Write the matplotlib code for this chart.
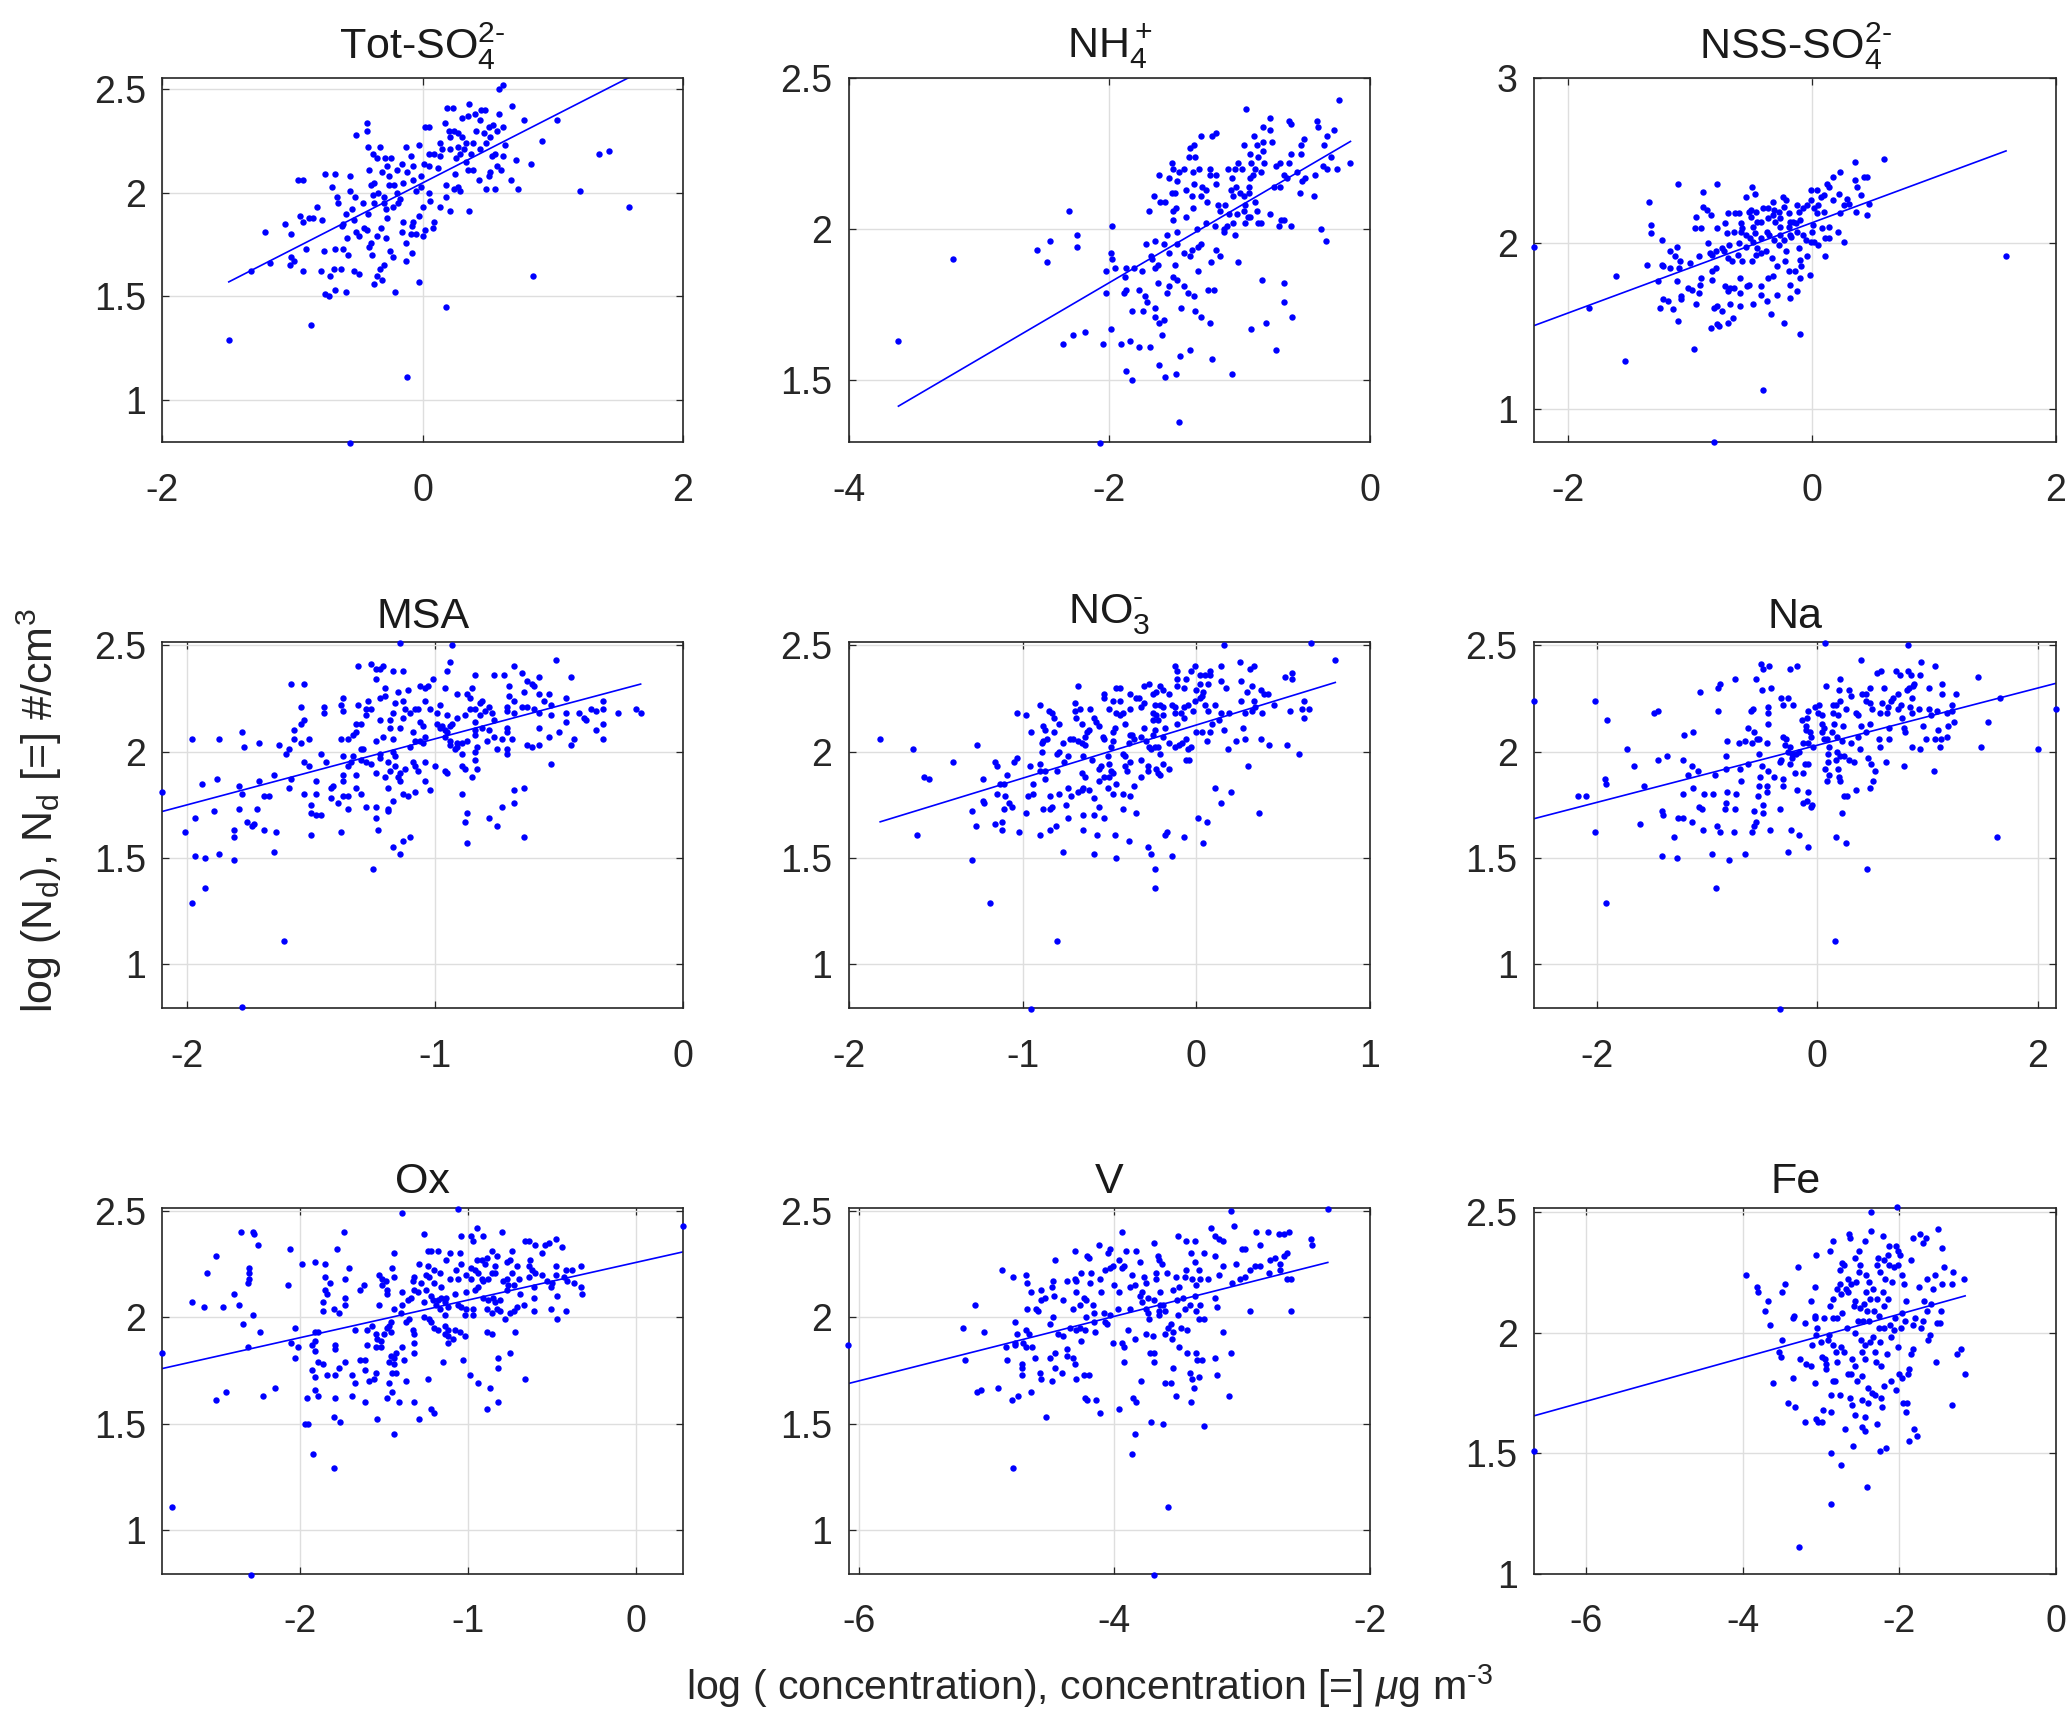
import numpy as np
import matplotlib
matplotlib.use('Agg')
import matplotlib.pyplot as plt
from matplotlib.ticker import FormatStrFormatter

plt.rcParams['font.family'] = ['Liberation Sans', 'DejaVu Sans']
plt.rcParams['mathtext.fontset'] = 'custom'
plt.rcParams['mathtext.rm'] = 'Liberation Sans'
plt.rcParams['mathtext.it'] = 'Liberation Sans:italic'
plt.rcParams['mathtext.default'] = 'regular'
plt.rcParams['axes.unicode_minus'] = False

# (log concentration, log Nd) pairs
tot_so4 = [(-1.49,1.29),(-1.32,1.62),(-1.17,1.66),(-1.21,1.81),(-1.06,1.85),(-1.01,1.80),(-0.94,1.89),(-0.92,1.86),(-0.87,1.88),(-0.84,1.88),(-0.77,1.87),(-0.81,1.93),(-0.96,2.06),(-0.92,2.06),(-0.75,2.09),(-0.67,2.09),(-0.56,2.08),(-0.70,2.03),(-0.66,1.98),(-0.65,1.95),(-0.56,2.01),(-0.51,2.28),(-0.43,2.34),(-0.43,2.30),(-0.42,2.22),(-0.33,2.22),(-0.38,2.19),(-0.35,2.17),(-0.29,2.17),(-0.24,2.17),(-0.13,2.22),(-0.03,2.23),(0.02,2.32),(0.05,2.32),(0.17,2.34),(0.19,2.41),(0.23,2.41),(0.36,2.43),(0.30,2.36),(0.35,2.37),(0.40,2.38),(0.44,2.35),(0.45,2.40),(0.48,2.40),(0.59,2.50),(0.62,2.52),(0.69,2.42),(0.59,2.38),(0.78,2.35),(1.03,2.35),(0.92,2.25),(0.54,2.33),(0.62,2.32),(0.63,2.23),(0.62,2.18),(0.72,2.16),(0.83,2.14),(0.68,2.06),(0.73,2.02),(1.36,2.19),(1.43,2.20),(1.21,2.01),(1.59,1.93),(0.85,1.60),(0.18,1.45),(-0.12,1.11),(-0.56,0.79),(-0.86,1.36),(-0.75,1.51),(-0.72,1.50),(-0.59,1.52),(-0.67,1.53),(-0.71,1.60),(-0.78,1.62),(-0.68,1.63),(-0.63,1.63),(-0.92,1.62),(-1.02,1.65),(-0.99,1.67),(-1.01,1.69),(-0.90,1.73),(-0.76,1.72),(-0.67,1.73),(-0.61,1.73),(-0.57,1.70),(-0.58,1.78),(-0.53,1.62),(-0.49,1.61),(-0.37,1.56),(-0.35,1.60),(-0.31,1.58),(-0.33,1.63),(-0.30,1.65),(-0.21,1.52),(-0.13,1.67),(-0.08,1.71),(-0.03,1.57),(-0.13,1.76),(-0.40,1.76),(-0.39,1.70),(-0.41,1.74),(-0.28,1.78),(-0.25,1.72),(-0.23,1.69),(-0.35,1.79),(-0.32,1.83),(-0.27,1.88),(-0.45,1.83),(-0.43,1.82),(-0.51,1.81),(-0.49,1.79),(-0.61,1.85),(-0.62,1.84),(-0.59,1.90),(-0.53,1.87),(-0.54,1.92),(-0.46,1.95),(-0.52,1.98),(-0.42,1.90),(-0.38,1.99),(-0.37,1.95),(-0.34,2.00),(-0.30,1.98),(-0.30,1.95),(-0.28,1.92),(-0.23,1.93),(-0.19,1.95),(-0.17,1.97),(-0.20,2.00),(-0.40,2.04),(-0.37,2.05),(-0.41,2.11),(-0.31,2.10),(-0.27,2.13),(-0.26,2.08),(-0.26,2.04),(-0.22,2.04),(-0.20,2.11),(-0.16,2.14),(-0.15,2.05),(-0.12,2.10),(-0.09,2.18),(-0.07,2.13),(-0.07,2.06),(-0.01,2.08),(0.01,2.14),(0.05,2.13),(0.05,2.19),(0.09,2.19),(0.13,2.18),(0.13,2.24),(0.15,2.21),(0.12,2.12),(0.05,2.00),(-0.01,2.03),(-0.05,2.01),(0.00,1.93),(-0.03,1.89),(-0.07,1.86),(-0.08,1.84),(-0.15,1.86),(-0.16,1.81),(-0.09,1.80),(-0.05,1.80),(-0.00,1.79),(0.02,1.82),(0.08,1.83),(0.09,1.86),(0.06,1.96),(0.13,1.93),(0.18,1.98),(0.21,1.91),(0.36,1.91),(0.18,2.04),(0.25,2.09),(0.27,2.03),(0.29,2.01),(0.24,2.02),(0.20,2.30),(0.24,2.30),(0.27,2.29),(0.21,2.27),(0.30,2.27),(0.33,2.24),(0.27,2.22),(0.21,2.21),(0.29,2.19),(0.26,2.17),(0.33,2.15),(0.32,2.21),(0.37,2.19),(0.41,2.30),(0.39,2.24),(0.44,2.21),(0.47,2.29),(0.51,2.32),(0.57,2.30),(0.52,2.27),(0.49,2.24),(0.56,2.19),(0.53,2.18),(0.39,2.11),(0.43,2.06),(0.51,2.08),(0.49,2.02),(0.56,2.02),(0.52,2.10),(0.57,2.13),(0.60,2.11),(0.35,2.11)]

nh4 = [(-3.62,1.63),(-3.20,1.90),(-2.56,1.93),(-2.46,1.96),(-2.48,1.89),(-2.31,2.06),(-2.25,1.98),(-2.25,1.94),(-2.36,1.62),(-2.28,1.65),(-2.19,1.66),(-2.05,1.62),(-1.99,1.67),(-2.03,1.79),(-2.03,1.86),(-1.99,1.92),(-1.98,2.01),(-1.98,1.90),(-1.96,1.87),(-2.07,1.29),(-1.91,1.62),(-1.84,1.63),(-1.87,1.53),(-1.83,1.50),(-1.77,1.61),(-1.69,1.61),(-1.62,1.55),(-1.57,1.51),(-1.49,1.52),(-1.46,1.58),(-1.38,1.60),(-1.47,1.36),(-1.21,1.57),(-1.06,1.52),(-0.91,1.67),(-0.80,1.69),(-0.72,1.60),(-0.60,1.71),(-0.66,1.76),(-0.66,1.82),(-0.83,1.83),(-1.01,1.89),(-1.23,1.69),(-1.30,1.71),(-1.34,1.73),(-1.24,1.80),(-1.20,1.80),(-1.35,1.78),(-1.40,1.79),(-1.43,1.81),(-1.45,1.74),(-1.60,1.65),(-1.58,1.70),(-1.62,1.69),(-1.65,1.71),(-1.65,1.74),(-1.71,1.76),(-1.73,1.78),(-1.74,1.73),(-1.83,1.73),(-1.77,1.80),(-1.87,1.80),(-1.89,1.79),(-1.88,1.84),(-1.87,1.87),(-1.81,1.87),(-1.75,1.86),(-1.63,1.82),(-1.56,1.79),(-1.54,1.81),(-1.51,1.84),(-1.48,1.83),(-1.50,1.88),(-1.65,1.87),(-1.63,1.88),(-1.67,1.90),(-1.68,1.91),(-1.72,1.95),(-1.65,1.96),(-1.58,1.95),(-1.56,1.98),(-1.54,1.92),(-1.48,1.95),(-1.48,1.99),(-1.43,1.92),(-1.38,1.91),(-1.37,1.93),(-1.32,1.94),(-1.30,1.95),(-1.32,1.86),(-1.22,1.89),(-1.18,1.93),(-1.15,1.91),(-1.33,2.00),(-1.26,2.02),(-1.19,2.01),(-1.10,2.01),(-1.12,1.99),(-1.12,2.00),(-1.04,1.98),(-1.08,2.05),(-1.11,2.08),(-1.15,2.06),(-1.17,2.08),(-1.25,2.09),(-1.30,2.11),(-1.26,2.13),(-1.29,2.14),(-1.36,2.07),(-1.37,2.11),(-1.41,2.13),(-1.41,2.04),(-1.49,2.07),(-1.51,2.06),(-1.51,2.03),(-1.50,2.12),(-1.52,2.12),(-1.57,2.09),(-1.61,2.09),(-1.66,2.11),(-1.70,2.06),(-1.62,2.18),(-1.54,2.17),(-1.48,2.16),(-1.51,2.20),(-1.47,2.19),(-1.52,2.22),(-1.43,2.20),(-1.36,2.19),(-1.31,2.20),(-1.23,2.20),(-1.18,2.18),(-1.23,2.18),(-1.18,2.15),(-1.35,2.15),(-1.39,2.24),(-1.34,2.24),(-1.38,2.27),(-1.35,2.28),(-1.30,2.31),(-1.21,2.31),(-1.18,2.32),(-1.09,2.20),(-1.04,2.20),(-1.01,2.22),(-0.98,2.20),(-1.06,2.17),(-1.03,2.14),(-1.07,2.13),(-1.05,2.11),(-1.00,2.12),(-0.97,2.11),(-0.93,2.12),(-0.96,2.08),(-0.97,2.06),(-0.96,2.02),(-0.94,2.04),(-1.02,2.05),(-1.05,2.02),(-0.92,2.04),(-0.86,2.02),(-0.84,2.02),(-0.87,2.06),(-0.88,2.09),(-0.93,2.14),(-0.92,2.17),(-0.90,2.18),(-0.88,2.20),(-0.91,2.22),(-0.86,2.24),(-0.92,2.25),(-0.97,2.28),(-0.87,2.28),(-0.82,2.29),(-0.82,2.26),(-0.81,2.22),(-0.84,2.19),(-0.89,2.31),(-0.82,2.34),(-0.77,2.33),(-0.77,2.37),(-0.95,2.40),(-0.75,2.29),(-0.72,2.21),(-0.69,2.22),(-0.66,2.18),(-0.64,2.17),(-0.74,2.14),(-0.69,2.14),(-0.77,2.05),(-0.70,2.01),(-0.68,2.03),(-0.66,2.03),(-0.61,2.01),(-0.62,2.22),(-0.61,2.25),(-0.62,2.36),(-0.61,2.35),(-0.53,2.28),(-0.53,2.25),(-0.56,2.19),(-0.51,2.30),(-0.50,2.17),(-0.52,2.16),(-0.54,2.12),(-0.42,2.18),(-0.43,2.11),(-0.41,2.36),(-0.40,2.34),(-0.35,2.28),(-0.33,2.31),(-0.28,2.33),(-0.30,2.24),(-0.36,2.21),(-0.33,2.20),(-0.25,2.20),(-0.24,2.43),(-0.15,2.22),(-0.38,2.00),(-0.34,1.96)]

nss_so4 = [(-2.28,1.98),(-1.83,1.61),(-1.61,1.80),(-1.53,1.29),(-1.34,2.25),(-1.32,2.11),(-1.32,2.06),(-1.23,2.02),(-1.35,1.87),(-1.26,1.77),(-1.25,1.61),(-1.22,1.66),(-1.18,1.65),(-1.14,1.60),(-1.10,1.53),(-1.23,1.87),(-1.22,1.86),(-1.16,1.85),(-1.16,1.95),(-1.12,1.92),(-1.11,1.98),(-1.10,2.36),(-1.08,1.89),(-1.09,1.85),(-1.11,1.77),(-1.07,1.68),(-1.07,1.66),(-1.00,1.88),(-1.02,1.73),(-0.98,1.72),(-0.95,1.63),(-0.93,1.70),(-0.92,1.75),(-0.91,1.79),(-0.93,1.92),(-0.97,1.36),(-0.96,2.09),(-0.91,2.09),(-0.95,2.16),(-0.89,2.31),(-0.89,2.22),(-0.86,2.20),(-0.83,2.17),(-0.78,2.36),(-0.85,2.00),(-0.84,1.94),(-0.82,1.93),(-0.79,1.95),(-0.82,1.83),(-0.82,1.78),(-0.79,1.85),(-0.78,2.09),(-0.74,1.97),(-0.83,1.49),(-0.78,1.51),(-0.76,1.50),(-0.80,1.61),(-0.78,1.62),(-0.74,1.59),(-0.80,0.80),(-0.69,1.52),(-0.65,1.55),(-0.67,1.63),(-0.59,1.62),(-0.69,1.71),(-0.67,1.73),(-0.64,1.73),(-0.71,1.74),(-0.59,1.70),(-0.59,1.79),(-0.52,1.75),(-0.53,1.74),(-0.48,1.63),(-0.42,1.69),(-0.42,1.74),(-0.37,1.65),(-0.34,1.57),(-0.40,1.11),(-0.29,1.69),(-0.23,1.52),(-0.18,1.67),(-0.18,1.75),(-0.12,1.71),(-0.10,1.45),(-0.10,1.79),(-0.09,1.86),(-0.14,1.83),(-0.19,1.83),(-0.02,1.81),(-0.04,1.92),(-0.10,1.90),(-0.11,1.97),(-0.22,1.89),(-0.21,1.95),(-0.29,1.86),(-0.36,1.79),(-0.32,1.80),(-0.33,1.91),(-0.38,1.95),(-0.42,1.94),(-0.46,1.93),(-0.49,1.89),(-0.57,1.89),(-0.61,1.93),(-0.66,1.89),(-0.69,1.91),(-0.72,1.95),(-0.68,1.99),(-0.60,2.00),(-0.54,1.98),(-0.48,2.01),(-0.45,1.97),(-0.51,2.03),(-0.58,2.07),(-0.54,2.05),(-0.47,2.06),(-0.42,2.03),(-0.37,2.07),(-0.35,2.05),(-0.31,2.02),(-0.27,1.99),(-0.26,2.05),(-0.23,2.02),(-0.18,2.05),(-0.17,2.04),(-0.12,2.07),(-0.07,2.05),(-0.05,2.02),(-0.01,2.01),(0.02,2.01),(0.05,1.99),(0.00,2.07),(0.01,2.11),(0.08,2.09),(0.11,2.03),(0.14,2.03),(0.11,1.92),(0.21,2.07),(0.26,2.01),(0.14,2.10),(-0.13,2.12),(-0.10,2.14),(-0.18,2.13),(-0.19,2.10),(-0.26,2.10),(-0.30,2.13),(-0.26,2.15),(-0.32,2.17),(-0.36,2.15),(-0.42,2.13),(-0.45,2.13),(-0.48,2.10),(-0.50,2.16),(-0.52,2.19),(-0.50,2.20),(-0.46,2.19),(-0.40,2.21),(-0.36,2.21),(-0.31,2.20),(-0.32,2.25),(-0.27,2.19),(-0.24,2.28),(-0.21,2.26),(-0.23,2.22),(-0.19,2.18),(-0.16,2.13),(-0.12,2.23),(-0.11,2.19),(-0.07,2.21),(-0.04,2.23),(-0.01,2.26),(-0.01,2.32),(0.04,2.32),(0.02,2.21),(0.05,2.23),(0.04,2.18),(0.10,2.19),(0.07,2.28),(0.10,2.29),(0.12,2.36),(0.14,2.34),(0.17,2.40),(0.17,2.26),(0.22,2.30),(0.23,2.43),(0.23,2.18),(0.29,2.27),(0.30,2.24),(0.35,2.49),(0.35,2.38),(0.37,2.34),(0.36,2.19),(0.43,2.40),(0.45,2.40),(0.47,2.24),(0.45,2.17),(0.40,2.29),(0.59,2.51),(1.59,1.92),(0.26,2.23),(-0.49,2.34),(-0.47,2.30),(-0.54,2.28),(-0.63,2.18),(-0.60,2.18),(-0.69,2.18),(-0.71,2.12),(-0.70,2.06),(-0.64,2.07),(-0.57,2.09),(-0.58,2.12)]

msa = [(-2.10,1.81),(-1.98,2.06),(-1.87,2.06),(-1.78,2.09),(-1.77,2.02),(-1.71,2.04),(-1.94,1.85),(-1.88,1.87),(-1.79,1.84),(-1.78,1.80),(-2.01,1.62),(-1.97,1.69),(-1.89,1.72),(-1.79,1.73),(-1.81,1.63),(-1.81,1.60),(-1.76,1.67),(-1.74,1.65),(-1.73,1.66),(-1.72,1.73),(-1.69,1.63),(-1.69,1.79),(-1.67,1.79),(-1.71,1.86),(-1.65,1.89),(-1.64,1.62),(-1.65,1.53),(-1.97,1.51),(-1.93,1.50),(-1.87,1.52),(-1.81,1.49),(-1.98,1.29),(-1.93,1.36),(-1.61,1.11),(-1.78,0.80),(-1.58,2.32),(-1.53,2.32),(-1.54,2.21),(-1.53,2.15),(-1.54,2.13),(-1.57,2.10),(-1.57,2.06),(-1.51,2.06),(-1.54,2.04),(-1.63,2.03),(-1.59,2.01),(-1.60,1.99),(-1.58,1.87),(-1.59,1.83),(-1.53,1.95),(-1.51,1.93),(-1.53,1.80),(-1.50,1.75),(-1.48,1.80),(-1.48,1.86),(-1.50,1.71),(-1.48,1.70),(-1.46,1.70),(-1.50,1.61),(-1.45,2.21),(-1.45,2.18),(-1.46,1.99),(-1.44,1.95),(-1.42,1.83),(-1.41,1.84),(-1.42,1.78),(-1.39,1.76),(-1.38,1.62),(-1.37,1.79),(-1.35,1.79),(-1.35,1.73),(-1.37,1.86),(-1.37,1.89),(-1.32,1.89),(-1.32,1.83),(-1.30,1.80),(-1.28,1.74),(-1.25,1.45),(-1.24,1.74),(-1.24,1.69),(-1.23,1.63),(-1.19,1.73),(-1.19,1.72),(-1.17,1.77),(-1.19,1.83),(-1.17,1.55),(-1.14,1.52),(-1.13,1.58),(-1.10,1.60),(-1.13,1.80),(-1.11,1.79),(-1.08,1.81),(-1.14,1.86),(-1.04,1.86),(-1.02,1.82),(-1.00,1.93),(-1.08,1.93),(-1.07,1.91),(-1.09,1.95),(-1.04,1.95),(-1.12,1.92),(-1.15,1.88),(-1.14,1.90),(-1.18,1.91),(-1.20,1.88),(-1.24,1.90),(-1.26,1.94),(-1.28,1.95),(-1.30,1.96),(-1.34,1.95),(-1.35,1.93),(-1.33,1.98),(-1.37,1.98),(-1.29,2.01),(-1.30,2.01),(-1.24,2.05),(-1.22,1.99),(-1.22,1.97),(-1.19,1.95),(-1.16,1.98),(-1.17,2.00),(-1.16,1.93),(-1.38,2.06),(-1.35,2.06),(-1.33,2.08),(-1.32,2.09),(-1.32,2.13),(-1.30,2.13),(-1.28,2.17),(-1.28,2.20),(-1.26,2.20),(-1.27,2.24),(-1.31,2.22),(-1.37,2.19),(-1.38,2.22),(-1.37,2.25),(-1.31,2.40),(-1.26,2.41),(-1.24,2.39),(-1.22,2.39),(-1.21,2.40),(-1.24,2.34),(-1.22,2.25),(-1.20,2.26),(-1.20,2.30),(-1.18,2.15),(-1.22,2.15),(-1.21,2.07),(-1.18,2.11),(-1.17,2.06),(-1.17,2.18),(-1.16,2.23),(-1.15,2.28),(-1.17,2.38),(-1.13,2.38),(-1.14,2.51),(-1.13,2.24),(-1.12,2.20),(-1.13,2.16),(-1.14,2.11),(-1.11,2.29),(-1.10,2.18),(-1.09,2.09),(-1.08,2.20),(-1.07,2.20),(-1.06,2.31),(-1.04,2.30),(-1.03,2.31),(-1.01,2.34),(-1.04,2.24),(-1.02,2.20),(-1.06,2.14),(-1.05,2.12),(-1.06,2.05),(-1.08,2.05),(-1.10,2.02),(-1.05,2.04),(-1.04,2.07),(-0.99,2.13),(-0.98,2.11),(-0.96,2.10),(-0.97,2.12),(-0.94,2.12),(-0.93,2.13),(-0.95,2.09),(-0.96,2.07),(-0.94,2.05),(-0.94,2.03),(-0.91,2.02),(-0.92,2.01),(-0.91,2.04),(-0.89,2.04),(-0.87,2.05),(-0.89,1.99),(-0.89,1.93),(-0.88,1.92),(-0.84,1.96),(-0.83,1.92),(-0.85,1.88),(-0.96,1.91),(-0.95,1.90),(-0.89,1.80),(-0.87,1.71),(-0.88,1.67),(-0.87,1.57),(-0.78,1.69),(-0.75,1.65),(-0.73,1.74),(-0.68,1.76),(-0.68,1.82),(-0.64,1.83),(-0.64,1.60),(-0.53,1.94),(-0.58,2.03),(-0.61,2.02),(-0.63,2.03),(-0.71,2.01),(-0.71,1.99),(-0.75,2.01),(-0.76,2.07),(-0.79,2.05),(-0.83,2.02),(-0.84,2.00),(-0.84,2.08),(-0.84,2.10),(-0.81,2.11),(-0.78,2.10),(-0.76,2.15),(-0.73,2.06),(-0.71,2.09),(-0.69,2.06),(-0.91,2.16),(-0.88,2.17),(-0.84,2.14),(-0.82,2.17),(-0.80,2.19),(-0.78,2.21),(-0.77,2.18),(-0.84,2.20),(-0.86,2.20),(-0.82,2.23),(-0.81,2.24),(-0.91,2.27),(-0.87,2.27),(-0.86,2.25),(-0.85,2.30),(-0.96,2.30),(-0.95,2.17),(-0.99,2.18),(-0.98,2.22),(-0.95,2.38),(-0.94,2.42),(-0.93,2.50),(-0.84,2.36),(-0.76,2.36),(-0.72,2.36),(-0.70,2.31),(-0.68,2.40),(-0.65,2.37),(-0.70,2.26),(-0.68,2.24),(-0.71,2.21),(-0.71,2.19),(-0.68,2.18),(-0.65,2.21),(-0.64,2.28),(-0.63,2.33),(-0.61,2.32),(-0.60,2.31),(-0.58,2.35),(-0.58,2.27),(-0.56,2.24),(-0.54,2.27),(-0.53,2.22),(-0.60,2.20),(-0.58,2.18),(-0.63,2.21),(-0.71,2.11),(-0.58,2.11),(-0.53,2.17),(-0.54,2.07),(-0.50,2.09),(-0.51,2.43),(-0.47,2.25),(-0.47,2.18),(-0.47,2.14),(-0.45,2.35),(-0.44,2.06),(-0.45,2.03),(-0.42,2.18),(-0.40,2.16),(-0.39,2.15),(-0.37,2.20),(-0.35,2.19),(-0.35,2.10),(-0.32,2.13),(-0.32,2.06),(-0.32,2.20),(-0.32,2.24),(-0.26,2.18),(-0.19,2.20),(-0.17,2.18)]

no3 = [(-1.82,2.06),(-1.63,2.01),(-1.57,1.88),(-1.54,1.87),(-1.61,1.61),(-1.40,1.95),(-1.26,2.03),(-1.23,1.87),(-1.29,1.72),(-1.27,1.65),(-1.29,1.49),(-1.23,1.77),(-1.22,1.76),(-1.19,1.29),(-1.16,1.95),(-1.15,1.93),(-1.16,1.66),(-1.15,1.80),(-1.12,1.67),(-1.12,1.63),(-1.11,1.73),(-1.13,1.85),(-1.11,1.85),(-1.09,1.89),(-1.10,1.79),(-1.08,1.76),(-1.06,1.74),(-1.05,1.95),(-1.03,1.97),(-1.03,2.18),(-0.98,2.17),(-1.02,1.62),(-0.98,1.71),(-0.97,1.79),(-0.96,1.93),(-0.95,0.79),(-0.95,2.09),(-0.94,1.85),(-0.94,1.80),(-0.90,2.22),(-0.90,1.61),(-0.90,1.94),(-0.90,1.91),(-0.89,2.00),(-0.89,2.04),(-0.87,1.87),(-0.87,1.91),(-0.88,2.12),(-0.87,2.10),(-0.86,2.06),(-0.88,2.05),(-0.85,2.19),(-0.83,2.18),(-0.82,2.16),(-0.82,2.09),(-0.79,2.13),(-0.80,1.99),(-0.79,2.00),(-0.80,1.91),(-0.84,1.79),(-0.88,1.73),(-0.84,1.73),(-0.83,1.74),(-0.79,1.80),(-0.84,1.63),(-0.81,1.65),(-0.80,1.11),(-0.77,1.53),(-0.76,1.95),(-0.77,2.04),(-0.75,1.75),(-0.74,1.83),(-0.74,1.98),(-0.74,1.69),(-0.73,2.06),(-0.71,2.06),(-0.72,1.79),(-0.68,2.31),(-0.68,1.81),(-0.70,2.23),(-0.70,2.19),(-0.69,2.16),(-0.67,2.20),(-0.66,2.13),(-0.68,2.05),(-0.66,2.04),(-0.64,2.03),(-0.64,2.07),(-0.65,1.98),(-0.63,2.09),(-0.62,2.10),(-0.61,2.20),(-0.59,2.16),(-0.58,2.14),(-0.66,1.90),(-0.64,1.88),(-0.66,1.82),(-0.65,1.83),(-0.62,1.82),(-0.59,1.78),(-0.60,1.96),(-0.55,1.93),(-0.56,1.92),(-0.56,1.86),(-0.53,1.88),(-0.56,1.74),(-0.53,1.69),(-0.65,1.70),(-0.59,1.70),(-0.65,1.63),(-0.57,1.61),(-0.59,1.52),(-0.54,2.07),(-0.53,2.06),(-0.56,2.12),(-0.53,2.27),(-0.53,2.25),(-0.51,1.98),(-0.50,1.94),(-0.51,1.83),(-0.49,1.91),(-0.50,1.88),(-0.48,1.90),(-0.48,1.80),(-0.46,1.85),(-0.47,1.61),(-0.46,1.50),(-0.48,2.05),(-0.49,2.02),(-0.48,2.09),(-0.47,2.11),(-0.50,2.20),(-0.48,2.24),(-0.46,2.30),(-0.44,2.30),(-0.44,2.24),(-0.46,2.18),(-0.44,2.17),(-0.42,2.18),(-0.41,2.13),(-0.42,1.99),(-0.41,1.98),(-0.41,1.93),(-0.40,1.91),(-0.42,1.80),(-0.38,1.79),(-0.42,1.73),(-0.39,1.58),(-0.35,1.71),(-0.36,1.84),(-0.38,1.95),(-0.39,2.04),(-0.38,2.08),(-0.37,2.08),(-0.36,2.06),(-0.38,2.27),(-0.38,2.20),(-0.35,2.25),(-0.33,2.25),(-0.32,2.21),(-0.30,2.23),(-0.30,2.31),(-0.27,2.32),(-0.30,2.11),(-0.32,2.07),(-0.29,2.05),(-0.32,1.96),(-0.32,1.88),(-0.28,1.93),(-0.28,1.91),(-0.26,2.01),(-0.24,2.10),(-0.25,2.15),(-0.25,2.18),(-0.24,2.22),(-0.25,2.27),(-0.23,2.28),(-0.21,2.31),(-0.19,2.29),(-0.16,2.27),(-0.21,2.22),(-0.19,2.21),(-0.23,2.17),(-0.22,2.15),(-0.19,2.17),(-0.18,2.11),(-0.19,2.07),(-0.25,2.08),(-0.27,2.02),(-0.24,2.02),(-0.22,2.02),(-0.21,1.99),(-0.23,1.92),(-0.22,1.90),(-0.19,1.94),(-0.16,1.92),(-0.21,1.89),(-0.18,1.61),(-0.17,1.62),(-0.28,1.55),(-0.26,1.52),(-0.24,1.45),(-0.24,1.36),(-0.14,1.51),(-0.07,1.60),(0.01,1.69),(0.06,1.67),(0.04,1.57),(-0.16,2.04),(-0.12,2.02),(-0.10,2.03),(-0.08,2.04),(-0.05,2.01),(-0.03,2.02),(-0.06,1.96),(-0.04,1.96),(-0.11,2.13),(-0.12,2.18),(-0.14,2.22),(-0.12,2.21),(-0.07,2.16),(-0.06,2.06),(-0.09,2.18),(-0.07,2.21),(-0.05,2.22),(-0.02,2.19),(-0.01,2.24),(0.02,2.25),(0.03,2.26),(0.00,2.29),(0.04,2.28),(0.02,2.32),(0.02,2.36),(0.05,2.36),(0.08,2.36),(0.08,2.38),(0.07,2.32),(-0.01,2.40),(-0.03,2.38),(-0.06,2.34),(-0.11,2.34),(-0.11,2.31),(-0.07,2.30),(-0.11,2.38),(-0.12,2.40),(0.05,2.22),(0.07,2.19),(0.09,2.13),(0.11,2.22),(0.14,2.18),(0.13,2.15),(0.14,2.40),(0.14,2.33),(0.17,2.30),(0.16,2.50),(0.08,2.09),(0.06,2.05),(0.03,2.09),(0.00,2.09),(0.16,2.10),(0.18,2.01),(0.19,2.18),(0.23,2.05),(0.25,2.42),(0.26,2.33),(0.26,2.24),(0.27,2.11),(0.28,2.06),(0.28,2.18),(0.29,2.28),(0.30,1.93),(0.31,2.39),(0.33,2.40),(0.32,2.31),(0.33,2.24),(0.34,2.21),(0.32,2.19),(0.37,2.29),(0.39,2.27),(0.41,2.27),(0.38,2.18),(0.37,2.06),(0.42,2.03),(0.45,2.22),(0.51,2.35),(0.55,2.37),(0.55,2.34),(0.54,2.19),(0.52,2.03),(0.59,1.99),(0.62,2.24),(0.61,2.20),(0.65,2.20),(0.62,2.16),(0.66,2.51),(0.80,2.43),(0.11,1.83),(0.20,1.81),(0.14,1.76),(0.36,1.71)]

na = [(-2.57,2.24),(-2.02,2.24),(-1.91,2.15),(-1.73,2.01),(-1.93,1.87),(-1.92,1.85),(-2.17,1.79),(-2.10,1.79),(-2.02,1.62),(-1.92,1.29),(-1.66,1.93),(-1.57,1.84),(-1.61,1.66),(-1.48,2.18),(-1.45,2.19),(-1.45,1.96),(-1.36,1.98),(-1.41,1.72),(-1.40,1.70),(-1.41,1.51),(-1.30,1.60),(-1.27,1.50),(-1.26,1.69),(-1.22,1.69),(-1.22,1.96),(-1.21,2.08),(-1.13,2.09),(-1.22,1.80),(-1.17,1.89),(-1.14,1.93),(-1.13,1.83),(-1.14,1.67),(-1.08,1.91),(-1.06,2.28),(-1.07,1.74),(-1.05,1.73),(-1.03,1.80),(-1.04,1.63),(-0.96,1.52),(-0.95,1.80),(-0.93,1.89),(-0.92,1.36),(-0.91,1.65),(-0.90,2.19),(-0.90,2.30),(-0.88,2.32),(-0.88,1.62),(-0.83,1.92),(-0.83,1.98),(-0.82,2.05),(-0.82,1.81),(-0.83,1.76),(-0.84,1.73),(-0.80,1.49),(-0.75,2.34),(-0.75,1.73),(-0.74,1.80),(-0.76,1.62),(-0.71,2.04),(-0.70,1.92),(-0.69,1.86),(-0.66,1.52),(-0.66,2.05),(-0.63,2.11),(-0.63,1.94),(-0.60,2.19),(-0.58,2.20),(-0.59,2.04),(-0.56,2.34),(-0.57,2.09),(-0.53,2.06),(-0.53,1.99),(-0.55,2.06),(-0.59,1.62),(-0.57,1.65),(-0.56,1.67),(-0.57,1.72),(-0.54,1.79),(-0.52,1.88),(-0.53,1.84),(-0.49,1.75),(-0.49,1.71),(-0.50,1.93),(-0.45,1.91),(-0.46,2.04),(-0.51,2.41),(-0.49,2.39),(-0.44,2.40),(-0.50,2.29),(-0.42,2.30),(-0.45,2.21),(-0.45,2.18),(-0.45,2.13),(-0.43,1.63),(-0.46,1.84),(-0.46,1.81),(-0.39,1.88),(-0.34,1.95),(-0.33,1.96),(-0.31,1.87),(-0.31,1.84),(-0.34,1.73),(-0.33,2.25),(-0.27,2.25),(-0.31,2.22),(-0.25,2.39),(-0.18,2.40),(-0.31,2.07),(-0.28,2.06),(-0.29,2.03),(-0.25,2.02),(-0.27,2.00),(-0.23,1.99),(-0.23,1.97),(-0.25,1.94),(-0.20,1.90),(-0.18,1.82),(-0.24,1.63),(-0.17,1.61),(-0.27,1.53),(-0.22,2.22),(-0.19,1.99),(-0.17,2.00),(-0.13,2.04),(-0.08,2.04),(-0.11,1.94),(-0.08,1.94),(-0.13,1.90),(-0.08,1.81),(-0.09,1.77),(-0.13,1.76),(-0.05,1.75),(-0.06,1.74),(-0.08,1.55),(-0.34,0.79),(0.16,1.11),(-0.14,2.15),(-0.09,2.16),(-0.08,2.19),(-0.10,2.12),(-0.10,2.10),(-0.07,2.09),(-0.06,2.07),(-0.04,2.02),(-0.02,2.21),(0.02,2.22),(0.01,2.18),(0.04,2.17),(0.04,2.13),(0.06,2.11),(0.04,2.09),(0.07,2.51),(0.08,2.31),(0.06,2.06),(0.09,2.06),(0.11,2.02),(0.10,1.99),(0.13,2.09),(0.14,2.18),(0.14,2.22),(0.17,2.22),(0.15,2.13),(0.18,2.07),(0.21,2.34),(0.20,2.29),(0.21,2.24),(0.19,2.17),(0.23,2.12),(0.22,2.05),(0.18,2.00),(0.21,1.98),(0.24,1.98),(0.17,1.96),(0.10,1.95),(0.07,1.92),(0.09,1.86),(0.11,1.89),(0.19,1.92),(0.20,1.88),(0.21,1.86),(0.24,1.79),(0.27,1.79),(0.22,1.71),(0.17,1.60),(0.26,1.57),(0.29,1.96),(0.33,1.95),(0.31,2.04),(0.37,2.07),(0.39,2.01),(0.35,1.82),(0.46,1.97),(0.49,1.94),(0.52,1.91),(0.48,1.83),(0.51,1.86),(0.45,1.45),(0.26,2.20),(0.29,2.29),(0.31,2.26),(0.35,2.18),(0.37,2.17),(0.40,2.12),(0.44,2.09),(0.40,2.43),(0.41,2.27),(0.44,2.27),(0.44,2.24),(0.48,2.23),(0.50,2.20),(0.48,2.30),(0.54,2.37),(0.58,2.38),(0.57,2.18),(0.48,2.13),(0.56,2.06),(0.57,2.02),(0.62,1.95),(0.61,2.30),(0.59,2.23),(0.64,2.21),(0.67,2.24),(0.63,2.18),(0.65,2.11),(0.65,2.06),(0.69,2.25),(0.71,2.38),(0.73,2.27),(0.73,2.20),(0.76,2.22),(0.75,2.36),(0.77,2.16),(0.79,2.11),(0.80,2.09),(0.81,2.29),(0.82,2.38),(0.82,2.50),(0.83,2.30),(0.85,2.36),(0.86,2.25),(0.87,2.31),(0.88,2.32),(0.84,2.21),(0.86,2.18),(0.92,2.20),(0.79,1.93),(0.86,2.02),(0.93,2.01),(0.93,2.36),(0.94,2.42),(0.96,2.12),(0.99,2.06),(1.01,2.30),(1.01,2.20),(1.03,2.17),(1.06,1.91),(1.07,2.40),(1.09,2.19),(1.07,2.06),(1.10,2.10),(1.11,2.02),(1.12,2.06),(1.13,2.32),(1.13,2.27),(1.18,2.07),(1.19,2.12),(1.18,2.18),(1.22,2.22),(1.22,2.19),(1.24,2.14),(1.26,2.27),(1.46,2.35),(1.49,2.02),(1.55,2.14),(1.63,1.60),(1.66,2.25),(2.00,2.01),(2.17,2.20)]

ox = [(-2.82,1.83),(-2.76,1.11),(-2.29,0.79),(0.28,2.43),(-2.35,2.40),(-2.28,2.40),(-2.27,2.39),(-2.25,2.34),(-2.50,2.29),(-2.55,2.21),(-2.64,2.07),(-2.57,2.05),(-2.46,2.05),(-2.39,2.11),(-2.36,2.06),(-2.30,2.23),(-2.30,2.21),(-2.30,2.18),(-2.31,2.16),(-2.28,2.01),(-2.34,1.97),(-2.24,1.93),(-2.31,1.86),(-2.50,1.61),(-2.44,1.65),(-2.22,1.63),(-2.15,1.67),(-2.06,2.32),(-2.07,2.15),(-1.99,2.25),(-2.03,1.95),(-2.05,1.88),(-2.01,1.86),(-2.03,1.81),(-1.91,2.26),(-1.85,2.25),(-1.85,2.19),(-1.82,2.16),(-1.85,2.13),(-1.84,2.11),(-1.86,2.07),(-1.86,2.03),(-1.80,2.04),(-1.77,2.02),(-1.78,2.32),(-1.74,2.40),(-1.71,2.23),(-1.73,2.18),(-1.73,2.09),(-1.73,2.06),(-1.91,1.93),(-1.89,1.93),(-1.91,1.89),(-1.93,1.87),(-1.91,1.84),(-1.89,1.79),(-1.93,1.75),(-1.86,1.78),(-1.91,1.72),(-1.91,1.66),(-1.89,1.63),(-1.96,1.62),(-1.97,1.50),(-1.95,1.50),(-1.92,1.36),(-1.80,1.29),(-1.84,1.73),(-1.79,1.87),(-1.79,1.85),(-1.77,1.76),(-1.79,1.73),(-1.79,1.62),(-1.80,1.53),(-1.76,1.51),(-1.73,1.79),(-1.69,1.73),(-1.69,1.63),(-1.67,1.69),(-1.67,1.94),(-1.64,1.80),(-1.64,2.13),(-1.62,2.15),(-1.61,1.80),(-1.61,1.75),(-1.60,1.87),(-1.61,1.60),(-1.60,1.94),(-1.59,1.70),(-1.57,1.96),(-1.55,1.74),(-1.56,1.71),(-1.54,1.52),(-1.55,1.92),(-1.54,1.90),(-1.55,1.86),(-1.52,1.86),(-1.52,1.89),(-1.53,2.06),(-1.53,2.20),(-1.51,2.18),(-1.49,2.17),(-1.51,2.15),(-1.48,2.13),(-1.48,2.11),(-1.46,1.93),(-1.47,1.96),(-1.48,1.95),(-1.50,1.92),(-1.46,1.98),(-1.47,1.79),(-1.46,1.82),(-1.44,1.81),(-1.44,1.78),(-1.45,1.74),(-1.43,1.74),(-1.47,1.69),(-1.45,1.65),(-1.48,1.62),(-1.44,1.45),(-1.41,1.60),(-1.43,1.83),(-1.39,1.86),(-1.38,1.80),(-1.37,1.70),(-1.32,1.60),(-1.29,1.52),(-1.22,1.57),(-1.20,1.55),(-1.24,1.71),(-1.32,1.83),(-1.32,1.88),(-1.32,1.92),(-1.33,1.94),(-1.37,1.98),(-1.35,1.99),(-1.40,2.02),(-1.39,2.06),(-1.44,2.04),(-1.39,2.12),(-1.36,2.08),(-1.34,2.09),(-1.32,2.13),(-1.30,2.12),(-1.28,2.16),(-1.33,2.17),(-1.32,2.19),(-1.45,2.23),(-1.44,2.19),(-1.44,2.30),(-1.39,2.49),(-1.26,2.39),(-1.29,2.25),(-1.24,2.24),(-1.24,2.31),(-1.22,2.31),(-1.18,2.31),(-1.20,2.22),(-1.17,2.21),(-1.25,2.20),(-1.23,2.19),(-1.20,2.16),(-1.16,2.14),(-1.25,2.13),(-1.22,2.10),(-1.21,2.08),(-1.26,2.07),(-1.19,2.06),(-1.17,2.04),(-1.14,2.01),(-1.18,2.08),(-1.16,2.09),(-1.14,2.07),(-1.13,2.09),(-1.26,2.00),(-1.23,1.99),(-1.22,1.98),(-1.20,1.95),(-1.18,1.94),(-1.14,1.96),(-1.12,1.94),(-1.14,1.92),(-1.12,1.91),(-1.09,1.90),(-1.12,1.88),(-1.08,1.94),(-1.05,1.93),(-1.02,1.91),(-1.15,1.79),(-1.03,1.80),(-0.99,1.73),(-0.94,1.69),(-0.87,1.67),(-0.89,1.57),(-0.82,1.60),(-0.82,1.76),(-0.82,1.81),(-0.75,1.83),(-0.72,1.93),(-0.66,1.71),(-0.89,1.93),(-0.86,1.92),(-1.12,2.05),(-1.11,2.18),(-1.13,2.27),(-1.11,2.30),(-1.06,2.18),(-1.07,2.22),(-1.08,2.11),(-1.06,2.06),(-1.04,2.05),(-1.02,2.01),(-1.01,2.04),(-1.01,2.12),(-1.04,2.25),(-1.05,2.30),(-1.04,2.38),(-1.06,2.51),(-0.98,2.38),(-0.97,2.36),(-0.95,2.42),(-0.91,2.38),(-0.98,2.23),(-0.96,2.22),(-1.01,2.20),(-0.98,2.18),(-0.95,2.27),(-0.92,2.27),(-0.89,2.28),(-0.86,2.31),(-0.90,2.25),(-0.94,2.21),(-0.92,2.18),(-0.96,2.13),(-0.94,2.14),(-0.91,2.17),(-0.88,2.18),(-0.86,2.21),(-0.84,2.24),(-0.83,2.29),(-0.84,2.21),(-0.80,2.40),(-0.74,2.31),(-0.77,2.26),(-0.75,2.27),(-0.71,2.24),(-0.74,2.21),(-0.77,2.18),(-0.79,2.17),(-0.76,2.15),(-0.73,2.15),(-0.70,2.18),(-0.77,2.13),(-0.91,2.09),(-0.88,2.08),(-0.85,2.09),(-0.84,2.07),(-0.83,2.04),(-0.81,2.08),(-0.89,2.04),(-0.97,2.04),(-0.97,2.01),(-0.86,2.02),(-0.81,2.03),(-0.78,1.99),(-0.75,2.02),(-0.73,2.03),(-0.71,2.05),(-0.69,2.11),(-0.67,2.06),(-0.66,2.36),(-0.64,2.36),(-0.60,2.34),(-0.63,2.27),(-0.64,2.24),(-0.64,2.19),(-0.62,2.22),(-0.60,2.21),(-0.56,2.30),(-0.54,2.34),(-0.52,2.35),(-0.48,2.37),(-0.56,2.20),(-0.53,2.17),(-0.48,2.24),(-0.48,2.20),(-0.50,2.16),(-0.51,2.14),(-0.61,2.14),(-0.61,2.09),(-0.61,2.03),(-0.51,2.04),(-0.47,2.10),(-0.47,1.99),(-0.44,2.33),(-0.43,2.19),(-0.42,2.22),(-0.41,2.17),(-0.38,2.22),(-0.37,2.16),(-0.42,2.03),(-0.33,2.24),(-0.33,2.14),(-0.32,2.11)]

v = [(-6.08,1.87),(-5.18,1.95),(-5.17,1.80),(-5.09,2.06),(-5.02,1.93),(-5.07,1.65),(-5.04,1.66),(-4.91,1.67),(-4.88,2.22),(-4.79,2.19),(-4.79,1.29),(-4.78,1.98),(-4.76,1.92),(-4.78,1.88),(-4.78,1.87),(-4.85,1.86),(-4.84,1.80),(-4.80,1.61),(-4.75,1.63),(-4.72,1.78),(-4.72,1.76),(-4.72,1.73),(-4.69,2.20),(-4.68,2.16),(-4.65,2.12),(-4.68,2.04),(-4.69,1.94),(-4.67,1.92),(-4.71,1.88),(-4.69,1.86),(-4.64,1.86),(-4.65,1.65),(-4.62,1.81),(-4.61,2.04),(-4.60,2.03),(-4.58,1.74),(-4.57,1.71),(-4.57,2.13),(-4.57,2.08),(-4.54,2.09),(-4.53,1.53),(-4.50,1.81),(-4.50,1.97),(-4.49,1.70),(-4.49,2.14),(-4.48,2.17),(-4.47,2.10),(-4.48,2.00),(-4.46,1.76),(-4.46,1.83),(-4.46,2.27),(-4.44,1.92),(-4.40,1.91),(-4.40,2.08),(-4.41,1.74),(-4.37,1.85),(-4.37,1.82),(-4.37,2.17),(-4.35,1.95),(-4.32,2.04),(-4.32,1.81),(-4.31,1.78),(-4.30,1.71),(-4.31,2.31),(-4.31,2.18),(-4.30,2.17),(-4.30,2.12),(-4.30,1.94),(-4.27,1.95),(-4.26,1.89),(-4.27,2.06),(-4.26,2.21),(-4.24,1.73),(-4.23,1.62),(-4.21,1.61),(-4.20,1.73),(-4.23,1.94),(-4.22,2.00),(-4.24,2.09),(-4.22,2.08),(-4.21,2.29),(-4.20,2.28),(-4.19,2.16),(-4.18,2.21),(-4.17,2.06),(-4.16,2.02),(-4.16,1.98),(-4.15,1.93),(-4.14,1.61),(-4.11,1.55),(-4.12,2.34),(-4.11,2.18),(-4.10,2.12),(-4.08,2.02),(-4.07,2.22),(-4.07,1.98),(-4.06,1.97),(-4.05,2.30),(-4.03,2.32),(-4.03,2.23),(-4.01,2.24),(-4.00,2.15),(-4.01,1.88),(-4.03,2.01),(-3.96,1.57),(-3.97,2.04),(-3.96,2.27),(-3.94,2.40),(-3.96,2.12),(-3.94,2.23),(-3.92,2.24),(-3.91,2.31),(-3.94,1.88),(-3.92,1.86),(-3.92,1.79),(-3.89,1.94),(-3.88,2.14),(-3.88,2.04),(-3.86,2.20),(-3.84,2.15),(-3.84,1.90),(-3.85,1.62),(-3.83,1.60),(-3.84,1.45),(-3.86,1.36),(-3.83,2.31),(-3.80,2.26),(-3.79,1.70),(-3.80,2.10),(-3.78,2.12),(-3.78,2.07),(-3.77,2.19),(-3.75,2.16),(-3.75,2.04),(-3.74,2.02),(-3.74,2.09),(-3.73,1.99),(-3.75,1.92),(-3.72,1.83),(-3.69,1.83),(-3.70,1.91),(-3.69,1.79),(-3.71,1.51),(-3.69,0.79),(-3.69,2.35),(-3.69,2.08),(-3.67,2.21),(-3.67,2.18),(-3.66,2.29),(-3.65,2.27),(-3.64,2.12),(-3.65,2.03),(-3.65,2.01),(-3.64,2.06),(-3.63,2.25),(-3.62,2.06),(-3.62,1.50),(-3.60,1.92),(-3.60,1.69),(-3.60,2.03),(-3.59,2.21),(-3.58,1.11),(-3.58,1.95),(-3.56,1.97),(-3.56,1.69),(-3.55,1.90),(-3.54,1.93),(-3.54,1.76),(-3.54,2.13),(-3.52,2.19),(-3.52,1.63),(-3.51,2.08),(-3.50,2.01),(-3.50,2.38),(-3.49,2.14),(-3.49,1.86),(-3.48,1.95),(-3.46,2.09),(-3.45,2.19),(-3.45,2.04),(-3.44,2.22),(-3.44,2.36),(-3.43,1.83),(-3.43,1.94),(-3.41,2.06),(-3.41,1.74),(-3.40,2.30),(-3.40,1.60),(-3.39,2.18),(-3.39,1.71),(-3.38,1.67),(-3.37,2.36),(-3.37,2.26),(-3.37,2.10),(-3.36,2.15),(-3.36,2.03),(-3.36,1.83),(-3.35,1.80),(-3.34,1.99),(-3.34,2.22),(-3.33,2.18),(-3.33,2.06),(-3.34,1.72),(-3.31,1.80),(-3.30,2.30),(-3.30,1.99),(-3.30,1.49),(-3.27,2.18),(-3.24,2.42),(-3.21,2.38),(-3.21,2.29),(-3.21,2.09),(-3.20,2.05),(-3.21,1.81),(-3.20,1.73),(-3.18,2.20),(-3.18,2.37),(-3.15,2.36),(-3.15,2.24),(-3.15,1.93),(-3.10,1.63),(-3.09,1.83),(-3.09,2.50),(-3.08,2.16),(-3.06,2.43),(-3.05,2.25),(-3.02,2.18),(-3.00,2.32),(-2.98,2.32),(-2.98,2.19),(-2.94,2.03),(-2.94,2.22),(-2.90,2.24),(-2.89,2.40),(-2.86,2.34),(-2.86,2.24),(-2.80,2.40),(-2.79,2.21),(-2.78,2.27),(-2.74,2.28),(-2.71,2.39),(-2.70,2.25),(-2.70,2.22),(-2.67,2.39),(-2.67,2.29),(-2.65,2.30),(-2.65,2.18),(-2.63,2.40),(-2.62,2.18),(-2.62,2.03),(-2.46,2.37),(-2.45,2.34),(-2.33,2.51)]

fe = [(-6.66,1.51),(-3.95,2.24),(-3.82,2.19),(-3.80,2.17),(-3.67,2.13),(-3.71,2.09),(-3.65,2.03),(-3.61,1.79),(-3.49,1.97),(-3.53,1.92),(-3.51,1.90),(-3.50,2.17),(-3.46,2.20),(-3.42,1.71),(-3.35,1.81),(-3.34,2.07),(-3.35,2.06),(-3.29,2.27),(-3.33,1.69),(-3.28,1.11),(-3.27,1.89),(-3.20,2.04),(-3.20,1.63),(-3.19,1.87),(-3.13,1.86),(-3.13,2.13),(-3.11,1.95),(-3.08,1.79),(-3.07,2.07),(-3.07,2.06),(-3.06,2.32),(-3.07,2.19),(-3.06,1.99),(-3.05,2.02),(-3.06,1.64),(-3.04,1.63),(-2.99,1.63),(-3.00,1.96),(-2.99,1.90),(-2.97,1.68),(-2.96,2.06),(-2.95,1.89),(-2.93,1.87),(-2.93,1.85),(-2.91,1.97),(-2.90,1.99),(-2.89,2.34),(-2.88,2.11),(-2.87,1.50),(-2.87,1.29),(-2.87,1.74),(-2.87,1.67),(-2.85,1.80),(-2.84,2.38),(-2.84,2.14),(-2.85,2.06),(-2.84,1.95),(-2.82,1.80),(-2.81,1.92),(-2.80,2.06),(-2.79,1.88),(-2.79,2.18),(-2.76,2.26),(-2.76,1.74),(-2.75,2.20),(-2.74,2.16),(-2.74,1.94),(-2.74,1.45),(-2.73,2.29),(-2.73,2.08),(-2.71,2.28),(-2.70,1.92),(-2.69,1.60),(-2.68,2.18),(-2.67,2.02),(-2.66,2.22),(-2.66,1.83),(-2.65,2.17),(-2.64,2.41),(-2.63,2.39),(-2.63,1.73),(-2.62,1.83),(-2.61,2.20),(-2.60,1.89),(-2.60,1.70),(-2.59,1.53),(-2.58,2.11),(-2.57,2.31),(-2.57,1.66),(-2.56,1.86),(-2.56,2.13),(-2.56,2.00),(-2.55,2.21),(-2.54,1.80),(-2.53,2.05),(-2.52,2.34),(-2.51,2.25),(-2.50,2.28),(-2.50,2.10),(-2.49,1.97),(-2.48,1.72),(-2.48,1.92),(-2.47,1.82),(-2.47,1.61),(-2.46,2.05),(-2.45,2.12),(-2.44,2.38),(-2.44,1.65),(-2.44,1.59),(-2.44,1.89),(-2.44,1.95),(-2.43,2.24),(-2.42,2.17),(-2.41,2.09),(-2.41,1.36),(-2.40,1.71),(-2.40,1.77),(-2.39,2.21),(-2.38,2.05),(-2.37,2.14),(-2.37,1.96),(-2.36,2.42),(-2.36,2.50),(-2.35,1.75),(-2.34,1.98),(-2.33,2.18),(-2.32,2.09),(-2.31,1.74),(-2.31,1.92),(-2.30,1.88),(-2.29,2.14),(-2.29,2.28),(-2.28,1.62),(-2.27,2.31),(-2.26,2.07),(-2.26,2.02),(-2.25,1.96),(-2.25,1.51),(-2.24,2.25),(-2.23,1.86),(-2.23,1.73),(-2.22,1.69),(-2.21,2.17),(-2.21,2.40),(-2.20,2.30),(-2.19,2.11),(-2.19,1.78),(-2.19,2.02),(-2.18,2.22),(-2.17,1.52),(-2.16,1.91),(-2.15,2.14),(-2.14,2.32),(-2.13,2.36),(-2.13,2.28),(-2.12,2.03),(-2.11,1.80),(-2.10,1.98),(-2.09,2.21),(-2.07,2.27),(-2.07,2.01),(-2.06,2.06),(-2.04,1.76),(-2.04,2.36),(-2.03,2.52),(-2.02,2.28),(-2.01,2.34),(-2.01,1.94),(-2.00,1.83),(-1.99,2.32),(-1.98,2.02),(-1.97,2.24),(-1.96,2.08),(-1.96,1.81),(-1.95,1.71),(-1.94,2.20),(-1.93,2.05),(-1.92,1.67),(-1.91,2.13),(-1.90,1.71),(-1.89,1.83),(-1.87,1.55),(-1.87,1.85),(-1.85,2.30),(-1.85,1.91),(-1.83,2.39),(-1.82,2.03),(-1.82,1.93),(-1.81,1.60),(-1.80,2.06),(-1.78,1.57),(-1.75,2.19),(-1.74,2.41),(-1.72,2.02),(-1.70,2.37),(-1.70,2.05),(-1.68,2.13),(-1.66,2.39),(-1.64,2.22),(-1.64,2.09),(-1.63,1.97),(-1.61,1.99),(-1.60,2.12),(-1.57,2.18),(-1.55,2.24),(-1.53,1.88),(-1.52,2.04),(-1.51,2.43),(-1.48,2.04),(-1.47,2.09),(-1.46,2.35),(-1.45,2.20),(-1.43,2.27),(-1.33,1.70),(-1.33,2.20),(-1.31,2.25),(-1.26,1.91),(-1.21,1.93),(-1.18,2.22),(-1.16,1.83)]

# least-squares fit lines (slope, intercept) as drawn on each panel
fits = {
    'tot_so4': (0.321, 2.048), 'nh4': (0.253, 2.329), 'nss_so4': (0.273, 2.124),
    'msa': (0.310, 2.370), 'no3': (0.250, 2.125), 'na': (0.1343, 2.030),
    'ox': (0.177, 2.258), 'v': (0.1517, 2.611), 'fe': (0.0904, 2.257),
}

titles = ['Tot-SO$_4^{2\\text{-}}$', 'NH$_4^+$', 'NSS-SO$_4^{2\\text{-}}$', 'MSA',
          'NO$_3^{\\text{-}}$', 'Na', 'Ox', 'V', 'Fe']
series = [tot_so4, nh4, nss_so4, msa, no3, na, ox, v, fe]
keys = ['tot_so4', 'nh4', 'nss_so4', 'msa', 'no3', 'na', 'ox', 'v', 'fe']
xlims = [(-2, 2), (-4, 0), (-2.276, 2.0), (-2.10, 0), (-2, 1), (-2.568, 2.167),
         (-2.817, 0.276), (-6.075, -2), (-6.656, 0)]
ylims = [(0.794, 2.556), (1.293, 2.502), (0.796, 3.0), (0.795, 2.514), (0.795, 2.514),
         (0.795, 2.514), (0.795, 2.514), (0.795, 2.514), (1.0, 2.517)]
xticks = [[-2, 0, 2], [-4, -2, 0], [-2, 0, 2], [-2, -1, 0], [-2, -1, 0, 1], [-2, 0, 2],
          [-2, -1, 0], [-6, -4, -2], [-6, -4, -2, 0]]
yticks = [[1, 1.5, 2, 2.5], [1.5, 2, 2.5], [1, 2, 3]] + [[1, 1.5, 2, 2.5]] * 6

fig = plt.figure(figsize=(20.67, 17.14), dpi=100)
lefts = [0.0786, 0.4107, 0.7423]
widths = [0.2517, 0.2521, 0.2524]
bottoms = [0.7419, 0.4119, 0.0818]
heights = [0.2127, 0.2134, 0.2135]

for i in range(9):
    r, c = divmod(i, 3)
    ax = fig.add_axes([lefts[c], bottoms[r], widths[c], heights[r]])
    pts = np.array(series[i])
    x, y = pts[:, 0], pts[:, 1]
    ax.plot(x, y, 'o', color='b', ms=4.6, mew=0, clip_on=False, zorder=3)
    m, b = fits[keys[i]]
    xs = np.array([x.min(), x.max()])
    ax.plot(xs, m * xs + b, color='b', lw=1.2, zorder=2)
    ax.set_xlim(xlims[i])
    ax.set_ylim(ylims[i])
    ax.set_xticks(xticks[i])
    ax.set_yticks(yticks[i])
    ax.xaxis.set_major_formatter(FormatStrFormatter('%g'))
    ax.yaxis.set_major_formatter(FormatStrFormatter('%g'))
    ax.grid(True, color='#dedede', lw=1.0)
    ax.set_axisbelow(True)
    ax.tick_params(direction='in', top=True, right=True, length=5, width=0.9,
                   color='#262626', labelsize=27, labelcolor='#262626')
    ax.tick_params(axis='x', pad=22)
    ax.tick_params(axis='y', pad=12)
    for s in ax.spines.values():
        s.set_color('#262626')
        s.set_linewidth(1.2)
    ax.set_title(titles[i], fontsize=31, color='#1a1a1a', pad=4, va='bottom')

fig.text(0.527, 0.0165, 'log ( concentration), concentration [=] $\\mathit{\\mu}$g m$^{\\text{-}3}$',
         ha='center', va='center', fontsize=29.5, color='#262626')
fig.text(0.019, 0.527, 'log (N$_d$), N$_d$ [=] #/cm$^3$', rotation=90,
         ha='center', va='center', fontsize=31, color='#262626')

fig.savefig('out.png', dpi=100)
